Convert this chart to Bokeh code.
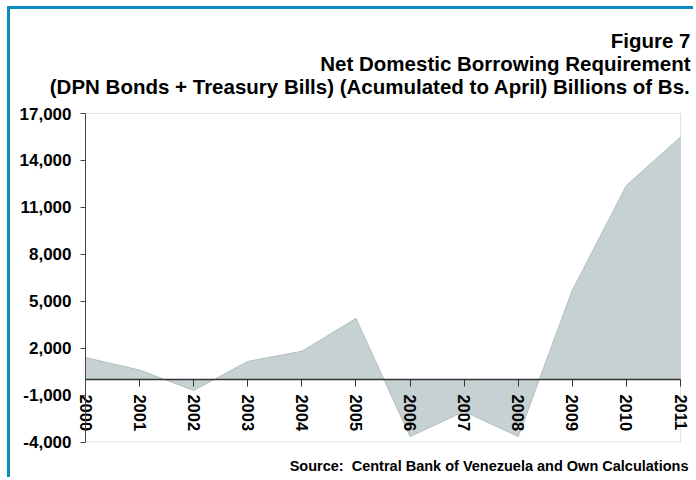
from bokeh.plotting import figure
from bokeh.models import (LinearAxis, FixedTicker, NumeralTickFormatter, Label, Range1d,
                          BoxAnnotation)
from bokeh.embed import file_html
from bokeh.resources import INLINE

# ---- data ----
years = [2000, 2001, 2002, 2003, 2004, 2005, 2006, 2007, 2008, 2009, 2010, 2011]
values = [1400, 600, -700, 1150, 1800, 3900, -3650, -2050, -3650, 5700, 12400, 15500]
y_ticks = [-4000, -1000, 2000, 5000, 8000, 11000, 14000, 17000]
y_lo, y_hi = -4000, 17000

title_lines = ["Figure 7",
               "Net Domestic Borrowing Requirement",
               "(DPN Bonds + Treasury Bills) (Acumulated to April) Billions of Bs."]
source_text = "Source:\u00a0 Central Bank of Venezuela and Own Calculations"

FONT = "Liberation Sans"
BLUE = "#0A8BBF"

# ---- layout geometry (canvas pixels) ----
W, H = 686, 471
PL, PR = 75, 670      # plot box left / right
PT, PB = 104, 432.5   # plot box top / bottom

x0, x1 = years[0], years[-1]
sx = (x1 - x0) / (PR - PL)
sy = (y_hi - y_lo) / (PB - PT)
x_range = Range1d(x0 - PL * sx, x1 + (W - PR) * sx)
y_range = Range1d(y_lo - (H - PB) * sy, y_hi + PT * sy)

p = figure(width=W, height=H, output_backend="svg", toolbar_location=None,
           x_axis_location=None, y_axis_location=None,
           x_range=x_range, y_range=y_range,
           min_border=0)
p.styles = {"margin-left": "7px", "margin-top": "6px",
            "border-left": f"3px solid {BLUE}", "border-top": f"3px solid {BLUE}"}

p.background_fill_color = "white"
p.border_fill_color = "white"
p.outline_line_color = None
p.grid.visible = False

# plot box
p.add_layout(BoxAnnotation(left=x0, right=x1, bottom=y_lo, top=y_hi,
                           fill_alpha=0, line_color="#9a9a9a", line_width=1))

# area
p.varea(x=years, y1=[0] * len(years), y2=values, fill_color="#c5d1d2", fill_alpha=1)
p.line(x=years, y=values, line_color="#b3bdbe", line_width=1)

# y axis
ya = LinearAxis(fixed_location=x0, bounds=(y_lo, y_hi), ticker=FixedTicker(ticks=y_ticks),
                formatter=NumeralTickFormatter(format="0,0"))
ya.level = "overlay"
ya.minor_tick_line_color = None
ya.major_tick_out = 5
ya.major_tick_in = 0
ya.major_label_standoff = 9
ya.axis_line_color = "#444444"
ya.major_tick_line_color = "#444444"
ya.major_label_text_font = FONT
ya.major_label_text_font_style = "bold"
ya.major_label_text_font_size = "17px"
ya.major_label_text_color = "black"
p.add_layout(ya, "left")

# x axis at zero
xa = LinearAxis(fixed_location=0, bounds=(x0, x1), ticker=FixedTicker(ticks=years))
xa.level = "overlay"
xa.minor_tick_line_color = None
xa.major_tick_out = 7
xa.major_tick_in = 0
xa.major_label_standoff = 8
xa.major_label_orientation = "vertical"
xa.axis_line_color = "#333333"
xa.axis_line_width = 1.5
xa.major_tick_line_color = "#333333"
xa.major_label_text_font = FONT
xa.major_label_text_font_style = "bold"
xa.major_label_text_font_size = "16.5px"
xa.major_label_text_color = "black"
p.add_layout(xa, "below")

# titles (screen units)
for txt, cy in zip(title_lines, [31, 54, 77]):
    p.add_layout(Label(x=680, y=H - cy, x_units="screen", y_units="screen", text=txt,
                       text_align="right", text_baseline="middle",
                       text_font=FONT, text_font_style="bold",
                       text_font_size="20.5px", text_color="black"))

p.add_layout(Label(x=678, y=H - 456, x_units="screen", y_units="screen", text=source_text,
                   text_align="right", text_baseline="middle",
                   text_font=FONT, text_font_style="bold",
                   text_font_size="14.5px", text_color="black"))

open("out.html", "w").write(file_html(p, INLINE))
